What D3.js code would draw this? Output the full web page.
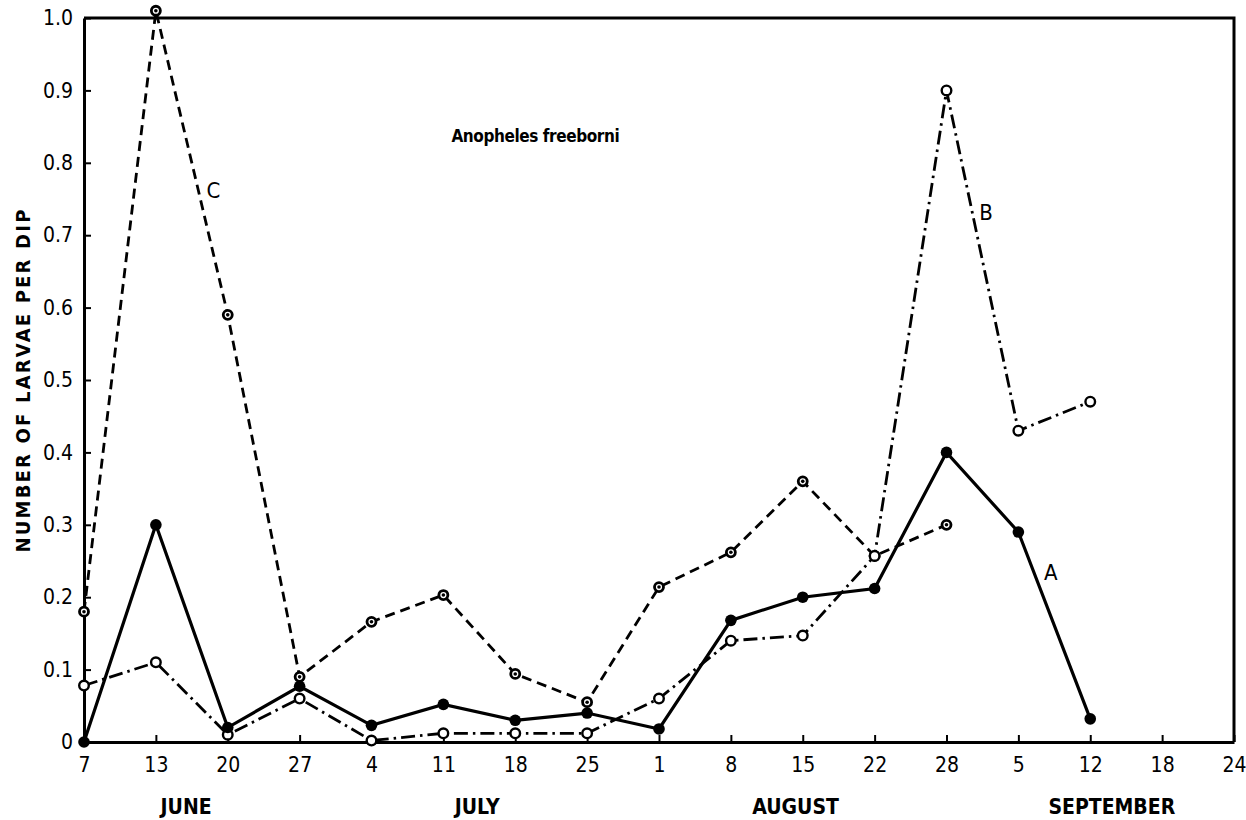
<!DOCTYPE html>
<html>
<head>
<meta charset="utf-8">
<script src="https://cdn.jsdelivr.net/npm/d3@7"></script>
<style>
  body { margin: 0; background: #fff; }
  svg text { font-family: "DejaVu Sans Condensed", "DejaVu Sans", sans-serif; fill: #000; }
</style>
</head>
<body>
<svg id="chart" width="1246" height="820"></svg>
<script>
// tick labels along the bottom (weekly dates)
const dayLabels = ["7", "13", "20", "27", "4", "11", "18", "25", "1", "8", "15", "22", "28", "5", "12", "18", "24"];
const months = [
  {name: "JUNE", at: 1.42},
  {name: "JULY", at: 5.47},
  {name: "AUGUST", at: 9.9},
  {name: "SEPTEMBER", at: 14.3}
];
const yTicks = [0, 0.1, 0.2, 0.3, 0.4, 0.5, 0.6, 0.7, 0.8, 0.9, 1.0];

// series values, one per date index
const seriesA = [0, 0.30, 0.02, 0.077, 0.023, 0.052, 0.03, 0.04, 0.018, 0.168, 0.20, 0.212, 0.40, 0.29, 0.032];
const seriesB = [0.078, 0.11, 0.01, 0.06, 0.002, 0.012, 0.012, 0.012, 0.06, 0.14, 0.147, 0.257, 0.90, 0.43, 0.47];
const seriesC = [0.18, 1.01, 0.59, 0.09, 0.166, 0.203, 0.094, 0.055, 0.214, 0.262, 0.36, 0.257, 0.30];

const margin = {top: 18, right: 12, bottom: 78, left: 84};
const width = 1246 - margin.left - margin.right;
const height = 820 - margin.top - margin.bottom;

const svg = d3.select("#chart")
  .append("g")
  .attr("transform", "translate(" + margin.left + "," + margin.top + ")");

const x = d3.scaleLinear().domain([0, dayLabels.length - 1]).range([0, width]);
const y = d3.scaleLinear().domain([0, 1]).range([height, 0]);

// frame: top and right sides
svg.append("path")
  .attr("d", "M0,0H" + width + "V" + height)
  .attr("fill", "none")
  .attr("stroke", "#000")
  .attr("stroke-width", 3);

// X axis with inward ticks
const xAxis = svg.append("g")
  .attr("transform", "translate(0," + height + ")")
  .call(d3.axisBottom(x)
    .tickValues(d3.range(dayLabels.length))
    .tickFormat(function(i) { return dayLabels[i]; })
    .tickSize(-7)
    .tickSizeOuter(0)
    .tickPadding(15));
xAxis.select(".domain").attr("stroke-width", 3);
xAxis.selectAll(".tick line").attr("stroke-width", 2);
xAxis.selectAll("text").style("font-size", "21px");

// Y axis with inward ticks
const yAxis = svg.append("g")
  .call(d3.axisLeft(y)
    .tickValues(yTicks)
    .tickFormat(function(d) { return d === 0 ? "0" : d3.format(".1f")(d); })
    .tickSize(-7)
    .tickSizeOuter(0)
    .tickPadding(11));
yAxis.select(".domain").attr("stroke-width", 3);
yAxis.selectAll(".tick line").attr("stroke-width", 2);
yAxis.selectAll("text").style("font-size", "21px");

// month names
svg.selectAll(".month")
  .data(months)
  .enter()
  .append("text")
  .attr("x", function(d) { return x(d.at); })
  .attr("y", height + 72)
  .style("text-anchor", "middle")
  .style("font-size", "21px")
  .style("font-weight", "bold")
  .text(function(d) { return d.name; });

// y label
svg.append("text")
  .attr("transform", "translate(" + (-54) + "," + (height / 2) + ")rotate(-90)")
  .style("text-anchor", "middle")
  .style("font-size", "20px")
  .style("font-weight", "bold")
  .style("letter-spacing", "2.2px")
  .text("NUMBER OF LARVAE PER DIP");

svg.append("text")
  .attr("x", x(6.28))
  .attr("y", 124)
  .style("text-anchor", "middle")
  .style("font-size", "17px")
  .style("font-weight", "bold")
  .style("letter-spacing", "-0.4px")
  .text("Anopheles freeborni");

const line = d3.line()
  .x(function(d, i) { return x(i); })
  .y(function(d) { return y(d); });

// C: dashed
svg.append("path")
  .datum(seriesC)
  .attr("d", line)
  .attr("fill", "none")
  .attr("stroke", "#000")
  .attr("stroke-width", 2.8)
  .attr("stroke-dasharray", "10,6");

// B: dash-dot
svg.append("path")
  .datum(seriesB)
  .attr("d", line)
  .attr("fill", "none")
  .attr("stroke", "#000")
  .attr("stroke-width", 2.8)
  .attr("stroke-dasharray", "14,5,2.5,5");

// A: solid
svg.append("path")
  .datum(seriesA)
  .attr("d", line)
  .attr("fill", "none")
  .attr("stroke", "#000")
  .attr("stroke-width", 3.2);

// markers
svg.selectAll(".ptC")
  .data(seriesC)
  .enter()
  .append("circle")
  .attr("cx", function(d, i) { return x(i); })
  .attr("cy", function(d) { return y(d); })
  .attr("r", 4.5)
  .attr("fill", "#fff")
  .attr("stroke", "#000")
  .attr("stroke-width", 2.8);
svg.selectAll(".ptCdot")
  .data(seriesC)
  .enter()
  .append("circle")
  .attr("cx", function(d, i) { return x(i); })
  .attr("cy", function(d) { return y(d); })
  .attr("r", 1.8)
  .attr("fill", "#000");

svg.selectAll(".ptB")
  .data(seriesB)
  .enter()
  .append("circle")
  .attr("cx", function(d, i) { return x(i); })
  .attr("cy", function(d) { return y(d); })
  .attr("r", 4.8)
  .attr("fill", "#fff")
  .attr("stroke", "#000")
  .attr("stroke-width", 2.4);

svg.selectAll(".ptA")
  .data(seriesA)
  .enter()
  .append("circle")
  .attr("cx", function(d, i) { return x(i); })
  .attr("cy", function(d) { return y(d); })
  .attr("r", 5.8)
  .attr("fill", "#000");

// curve letters
svg.append("text").attr("x", x(1.8)).attr("y", y(0.762) + 8)
  .style("font-size", "22px").style("text-anchor", "middle").text("C");
svg.append("text").attr("x", x(12.55)).attr("y", y(0.732) + 8)
  .style("font-size", "22px").style("text-anchor", "middle").text("B");
svg.append("text").attr("x", x(13.45)).attr("y", y(0.235) + 8)
  .style("font-size", "22px").style("text-anchor", "middle").text("A");
</script>
</body>
</html>
